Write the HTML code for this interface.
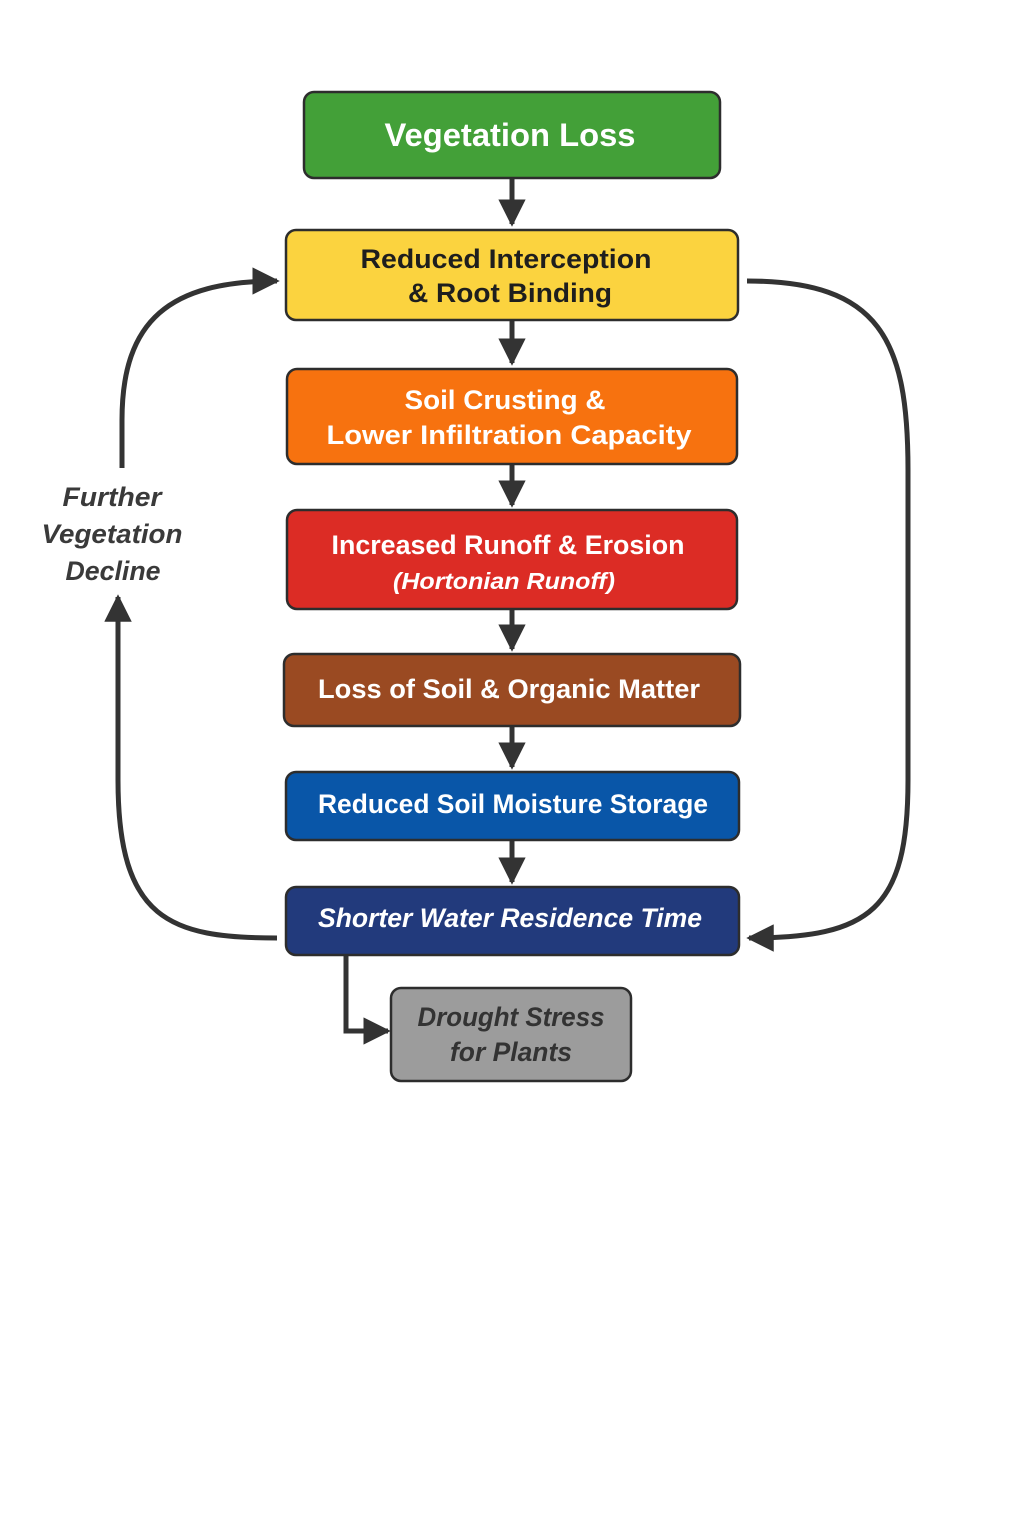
<!DOCTYPE html>
<html><head><meta charset="utf-8"><style>
html,body{margin:0;padding:0;background:#fff}
svg{display:block}
text{font-family:"Liberation Sans",sans-serif;font-weight:bold;text-anchor:middle}
</style></head><body>
<svg width="1024" height="1536" viewBox="0 0 1024 1536" xmlns="http://www.w3.org/2000/svg">
<defs>
<marker id="ah" viewBox="0 0 10 10" refX="9" refY="5" markerWidth="5.5" markerHeight="5.5" orient="auto" markerUnits="strokeWidth">
<path d="M0,0 L10,5 L0,10 z" fill="#333"/></marker>
</defs>
<g stroke="#333" stroke-width="5" fill="none" marker-end="url(#ah)">
<line x1="512" y1="178" x2="512" y2="224"/>
<line x1="512" y1="320" x2="512" y2="363"/>
<line x1="512" y1="464" x2="512" y2="505"/>
<line x1="512" y1="609" x2="512" y2="649"/>
<line x1="512" y1="726" x2="512" y2="767"/>
<line x1="512" y1="840" x2="512" y2="882"/>
<path d="M277,938 C170,938 118,920 118,780 L118,597"/>
<path d="M122,468 L122,420 C122,320 170,281 277,281"/>
<path d="M747,281 C880,281 908,340 908,470 L908,780 C908,910 870,938 749,938"/>
<path d="M346,955 L346,1031 L388,1031"/>
</g>
<g stroke="#2d2d2d" stroke-width="2.5">
<rect x="304" y="92" width="416" height="86" rx="10" fill="#43a038"/>
<rect x="286" y="230" width="452" height="90" rx="10" fill="#fbd33f"/>
<rect x="287" y="369" width="450" height="95" rx="10" fill="#f7720f"/>
<rect x="287" y="510" width="450" height="99" rx="10" fill="#dc2c25"/>
<rect x="284" y="654" width="456" height="72" rx="10" fill="#9a4a22"/>
<rect x="286" y="772" width="453" height="68" rx="10" fill="#0956a8"/>
<rect x="286" y="887" width="453" height="68" rx="10" fill="#223a7c"/>
<rect x="391" y="988" width="240" height="93" rx="10" fill="#9c9c9c"/>
</g>
<g lengthAdjust="spacingAndGlyphs">
<text x="510" y="146" font-size="32" fill="#fff" textLength="251" lengthAdjust="spacingAndGlyphs">Vegetation Loss</text>
<text x="506" y="268" font-size="27" fill="#1e1e1e" textLength="291" lengthAdjust="spacingAndGlyphs">Reduced Interception</text>
<text x="510" y="302" font-size="27" fill="#1e1e1e" textLength="204" lengthAdjust="spacingAndGlyphs">&amp; Root Binding</text>
<text x="505" y="409" font-size="27" fill="#fff" textLength="201" lengthAdjust="spacingAndGlyphs">Soil Crusting &amp;</text>
<text x="509" y="444" font-size="27" fill="#fff" textLength="365" lengthAdjust="spacingAndGlyphs">Lower Infiltration Capacity</text>
<text x="508" y="554" font-size="27" fill="#fff" textLength="353" lengthAdjust="spacingAndGlyphs">Increased Runoff &amp; Erosion</text>
<text x="504" y="589" font-size="23" font-style="italic" fill="#fff" textLength="222" lengthAdjust="spacingAndGlyphs">(Hortonian Runoff)</text>
<text x="509" y="698" font-size="27" fill="#fff" textLength="382" lengthAdjust="spacingAndGlyphs">Loss of Soil &amp; Organic Matter</text>
<text x="513" y="813" font-size="27" fill="#fff" textLength="390" lengthAdjust="spacingAndGlyphs">Reduced Soil Moisture Storage</text>
<text x="510" y="927" font-size="27" font-style="italic" fill="#fff" textLength="384" lengthAdjust="spacingAndGlyphs">Shorter Water Residence Time</text>
<text x="511" y="1026" font-size="27" font-style="italic" fill="#333" textLength="187" lengthAdjust="spacingAndGlyphs">Drought Stress</text>
<text x="511" y="1061" font-size="27" font-style="italic" fill="#333" textLength="122" lengthAdjust="spacingAndGlyphs">for Plants</text>
<text x="112" y="506" font-size="27" font-style="italic" fill="#3a3a3a" textLength="99" lengthAdjust="spacingAndGlyphs">Further</text>
<text x="112" y="543" font-size="27" font-style="italic" fill="#3a3a3a" textLength="141" lengthAdjust="spacingAndGlyphs">Vegetation</text>
<text x="113" y="580" font-size="27" font-style="italic" fill="#3a3a3a" textLength="95" lengthAdjust="spacingAndGlyphs">Decline</text>
</g>
</svg>
</body></html>
